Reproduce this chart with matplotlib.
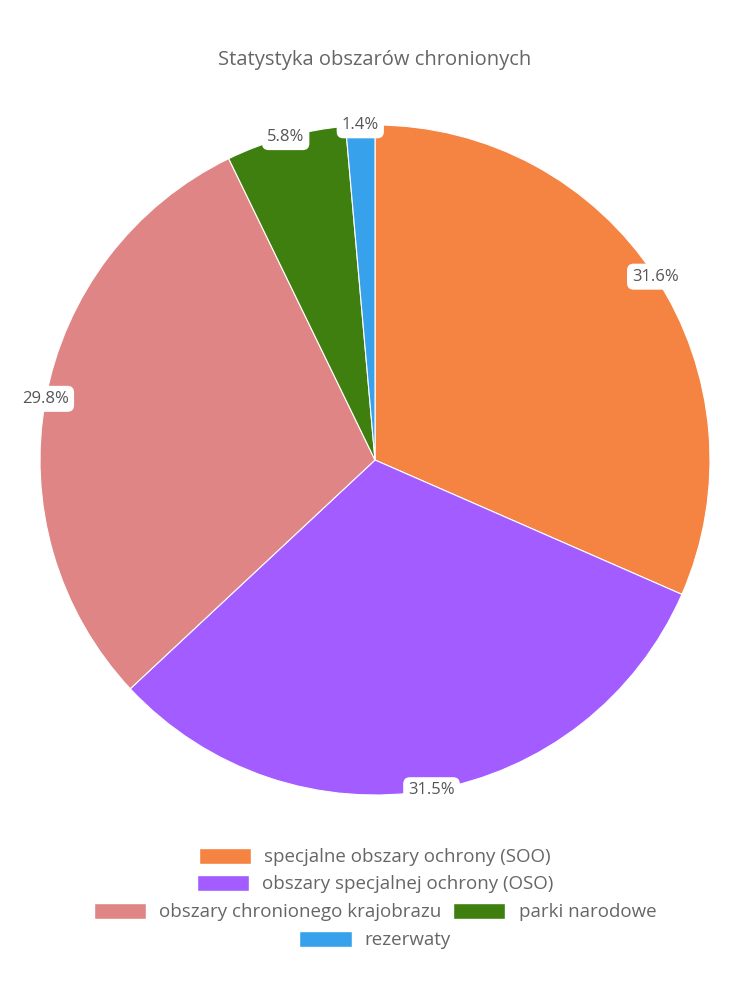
import numpy as np
import matplotlib.pyplot as plt
from matplotlib.patches import Patch

plt.rcParams['font.family'] = ['Open Sans', 'DejaVu Sans']

#data
labels = ['specjalne obszary ochrony (SOO)', 'obszary specjalnej ochrony (OSO)',
          'obszary chronionego krajobrazu', 'parki narodowe', 'rezerwaty']
values = [31.6, 31.5, 29.8, 5.8, 1.4]
colors = ['#F58342', '#A25CFF', '#E08585', '#3F7F0F', '#37A2EB']

fig = plt.figure(figsize=(7.5, 10), dpi=100)
ax = fig.add_axes([40/750, 205/1000, 670/750, 670/1000])

wedges, _ = ax.pie(values, colors=colors, startangle=90, counterclock=False,
                   radius=1, wedgeprops=dict(edgecolor='white', linewidth=0.8))
ax.set_xlim(-1, 1)
ax.set_ylim(-1, 1)
ax.set_aspect('equal')
ax.axis('off')

#percent labels on the rim
total = sum(values)
cum = 0
for v in values:
    mid = (cum + v/2)/total*2*np.pi
    cum += v
    x, y = np.sin(mid), np.cos(mid)
    ax.text(x, y, '%.1f%%' % v, ha='center', va='center', fontsize=12, color='#555555',
            bbox=dict(boxstyle='round,pad=0.3,rounding_size=0.4', fc='white', ec='none'))

fig.text(0.5, 0.94, 'Statystyka obszarów chronionych', ha='center', va='center',
         fontsize=14.5, color='#666666')

#legend rows, centered like the original flow layout
rows = [[0], [1], [2, 3], [4]]
ys = [0.143, 0.116, 0.088, 0.060]
for r, yy in zip(rows, ys):
    handles = [Patch(facecolor=colors[i], edgecolor='white', label=labels[i]) for i in r]
    fig.legend(handles=handles, loc='center', bbox_to_anchor=(0.5, yy), ncol=len(r),
               frameon=False, fontsize=13.5, handlelength=2.8, handleheight=1.0,
               handletextpad=0.7, columnspacing=0.6, labelcolor='#666666')

plt.savefig('out.png')
